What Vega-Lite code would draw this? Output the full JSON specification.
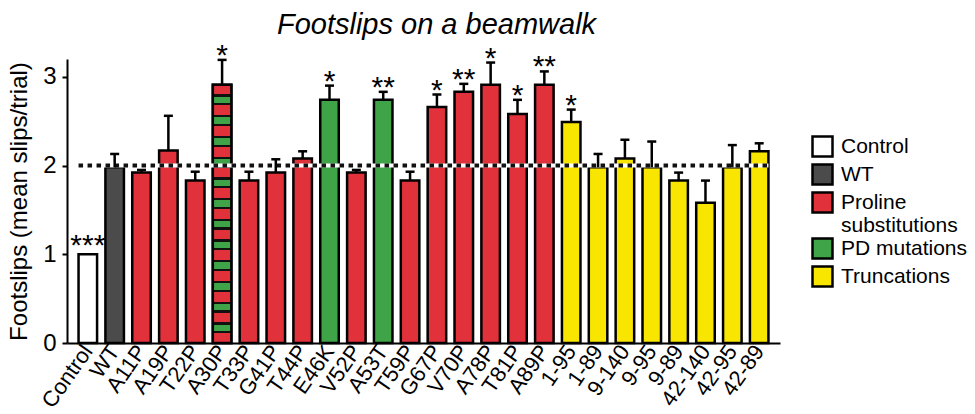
{
  "$schema": "https://vega.github.io/schema/vega-lite/v6.json",
  "width": 713,
  "height": 284,
  "autosize": {"type": "none"},
  "padding": {"left": 67, "top": 59, "right": 195, "bottom": 71},
  "background": "white",
  "config": {"font": "Liberation Sans", "view": {"stroke": null}},
  "title": {"text": "Footslips on a beamwalk", "fontSize": 29, "fontStyle": "italic", "fontWeight": "normal", "font": "Liberation Sans", "color": "black", "anchor": "middle", "dx": 13, "offset": 1},
  "data": {"values": [
    {"name": "Control", "group": "Control", "value": 1.0, "err": null, "sig": "***"},
    {"name": "WT", "group": "WT", "value": 1.98, "err": 2.13, "sig": ""},
    {"name": "A11P", "group": "Proline substitutions", "value": 1.92, "err": 1.95, "sig": ""},
    {"name": "A19P", "group": "Proline substitutions", "value": 2.17, "err": 2.56, "sig": ""},
    {"name": "T22P", "group": "Proline substitutions", "value": 1.83, "err": 1.93, "sig": ""},
    {"name": "A30P", "group": "Proline substitutions", "value": 2.91, "err": 3.19, "sig": "*"},
    {"name": "T33P", "group": "Proline substitutions", "value": 1.83, "err": 1.93, "sig": ""},
    {"name": "G41P", "group": "Proline substitutions", "value": 1.92, "err": 2.07, "sig": ""},
    {"name": "T44P", "group": "Proline substitutions", "value": 2.08, "err": 2.16, "sig": ""},
    {"name": "E46K", "group": "PD mutations", "value": 2.74, "err": 2.9, "sig": "*"},
    {"name": "V52P", "group": "Proline substitutions", "value": 1.92, "err": 1.95, "sig": ""},
    {"name": "A53T", "group": "PD mutations", "value": 2.74, "err": 2.83, "sig": "**"},
    {"name": "T59P", "group": "Proline substitutions", "value": 1.83, "err": 1.93, "sig": ""},
    {"name": "G67P", "group": "Proline substitutions", "value": 2.66, "err": 2.8, "sig": "*"},
    {"name": "V70P", "group": "Proline substitutions", "value": 2.83, "err": 2.92, "sig": "**"},
    {"name": "A78P", "group": "Proline substitutions", "value": 2.91, "err": 3.16, "sig": "*"},
    {"name": "T81P", "group": "Proline substitutions", "value": 2.58, "err": 2.74, "sig": "*"},
    {"name": "A89P", "group": "Proline substitutions", "value": 2.91, "err": 3.06, "sig": "**"},
    {"name": "1-95", "group": "Truncations", "value": 2.49, "err": 2.63, "sig": "*"},
    {"name": "1-89", "group": "Truncations", "value": 1.98, "err": 2.13, "sig": ""},
    {"name": "9-140", "group": "Truncations", "value": 2.08, "err": 2.29, "sig": ""},
    {"name": "9-95", "group": "Truncations", "value": 1.98, "err": 2.27, "sig": ""},
    {"name": "9-89", "group": "Truncations", "value": 1.83, "err": 1.92, "sig": ""},
    {"name": "42-140", "group": "Truncations", "value": 1.58, "err": 1.83, "sig": ""},
    {"name": "42-95", "group": "Truncations", "value": 1.98, "err": 2.23, "sig": ""},
    {"name": "42-89", "group": "Truncations", "value": 2.16, "err": 2.25, "sig": ""}
  ]},
  "layer": [
    {
      "mark": {"type": "bar", "stroke": "black", "strokeWidth": 2.5},
      "encoding": {
        "x": {"field": "name", "type": "nominal", "sort": null,
          "scale": {"paddingInner": 0.31, "paddingOuter": 0.43},
          "axis": {"title": null, "labelAngle": -55, "labelAlign": "right", "labelBaseline": "middle", "labelFontSize": 22, "labelColor": "black", "labelPadding": 4, "ticks": false, "domainColor": "black", "domainWidth": 2}},
        "y": {"field": "value", "type": "quantitative",
          "scale": {"domain": [0, 3.2], "nice": false},
          "axis": {"title": "Footslips (mean slips/trial)", "titleFontSize": 24, "titleFontWeight": "normal", "titleColor": "black", "titlePadding": 11,
            "values": [0, 0.5, 1, 1.5, 2, 2.5, 3], "format": "d", "labelExpr": "datum.value % 1 === 0 ? datum.label : ''",
            "labelFontSize": 24, "labelColor": "black", "labelPadding": 6, "tickColor": "black", "tickWidth": 2, "tickSize": 5,
            "domainColor": "black", "domainWidth": 2, "grid": false}},
        "fill": {"field": "group", "type": "nominal",
          "scale": {"domain": ["Control", "WT", "Proline substitutions", "PD mutations", "Truncations"],
                    "range": ["#ffffff", "#4b4b4b", "#e1323b", "#3fa447", "#f9e600"]},
          "legend": {"title": null, "orient": "none", "legendX": 744, "legendY": 76, "padding": 0,
            "symbolType": "square", "symbolSize": 400, "symbolStrokeColor": "black", "symbolStrokeWidth": 2.5, "symbolOpacity": 1,
            "labelFontSize": 21, "labelColor": "black", "labelOffset": 7, "rowPadding": -3, "labelLimit": 300,
            "labelExpr": "datum.value === 'Proline substitutions' ? ['Proline', 'substitutions'] : datum.label"}}
      }
    },
    {
      "transform": [{"filter": "datum.name === 'A30P'"}],
      "mark": {"type": "bar", "stroke": "black", "strokeWidth": 2.5,
        "fill": {"gradient": "linear", "x1": 0, "y1": 0, "x2": 0, "y2": 1, "stops": [
          {"offset": 0, "color": "#e1323b"},
          {"offset": 0.0376, "color": "#e1323b"}, {"offset": 0.0376, "color": "#111111"}, {"offset": 0.0466, "color": "#111111"}, {"offset": 0.0466, "color": "#3fa447"}, {"offset": 0.0712, "color": "#3fa447"}, {"offset": 0.0712, "color": "#111111"}, {"offset": 0.0802, "color": "#111111"}, {"offset": 0.0802, "color": "#e1323b"},
          {"offset": 0.1178, "color": "#e1323b"}, {"offset": 0.1178, "color": "#111111"}, {"offset": 0.1268, "color": "#111111"}, {"offset": 0.1268, "color": "#3fa447"}, {"offset": 0.1514, "color": "#3fa447"}, {"offset": 0.1514, "color": "#111111"}, {"offset": 0.1604, "color": "#111111"}, {"offset": 0.1604, "color": "#e1323b"},
          {"offset": 0.198, "color": "#e1323b"}, {"offset": 0.198, "color": "#111111"}, {"offset": 0.207, "color": "#111111"}, {"offset": 0.207, "color": "#3fa447"}, {"offset": 0.2316, "color": "#3fa447"}, {"offset": 0.2316, "color": "#111111"}, {"offset": 0.2406, "color": "#111111"}, {"offset": 0.2406, "color": "#e1323b"},
          {"offset": 0.2782, "color": "#e1323b"}, {"offset": 0.2782, "color": "#111111"}, {"offset": 0.2872, "color": "#111111"}, {"offset": 0.2872, "color": "#3fa447"}, {"offset": 0.3118, "color": "#3fa447"}, {"offset": 0.3118, "color": "#111111"}, {"offset": 0.3208, "color": "#111111"}, {"offset": 0.3208, "color": "#e1323b"},
          {"offset": 0.3584, "color": "#e1323b"}, {"offset": 0.3584, "color": "#111111"}, {"offset": 0.3674, "color": "#111111"}, {"offset": 0.3674, "color": "#3fa447"}, {"offset": 0.392, "color": "#3fa447"}, {"offset": 0.392, "color": "#111111"}, {"offset": 0.401, "color": "#111111"}, {"offset": 0.401, "color": "#e1323b"},
          {"offset": 0.4386, "color": "#e1323b"}, {"offset": 0.4386, "color": "#111111"}, {"offset": 0.4476, "color": "#111111"}, {"offset": 0.4476, "color": "#3fa447"}, {"offset": 0.4722, "color": "#3fa447"}, {"offset": 0.4722, "color": "#111111"}, {"offset": 0.4812, "color": "#111111"}, {"offset": 0.4812, "color": "#e1323b"},
          {"offset": 0.5188, "color": "#e1323b"}, {"offset": 0.5188, "color": "#111111"}, {"offset": 0.5278, "color": "#111111"}, {"offset": 0.5278, "color": "#3fa447"}, {"offset": 0.5524, "color": "#3fa447"}, {"offset": 0.5524, "color": "#111111"}, {"offset": 0.5614, "color": "#111111"}, {"offset": 0.5614, "color": "#e1323b"},
          {"offset": 0.599, "color": "#e1323b"}, {"offset": 0.599, "color": "#111111"}, {"offset": 0.608, "color": "#111111"}, {"offset": 0.608, "color": "#3fa447"}, {"offset": 0.6326, "color": "#3fa447"}, {"offset": 0.6326, "color": "#111111"}, {"offset": 0.6416, "color": "#111111"}, {"offset": 0.6416, "color": "#e1323b"},
          {"offset": 0.6792, "color": "#e1323b"}, {"offset": 0.6792, "color": "#111111"}, {"offset": 0.6882, "color": "#111111"}, {"offset": 0.6882, "color": "#3fa447"}, {"offset": 0.7128, "color": "#3fa447"}, {"offset": 0.7128, "color": "#111111"}, {"offset": 0.7218, "color": "#111111"}, {"offset": 0.7218, "color": "#e1323b"},
          {"offset": 0.7594, "color": "#e1323b"}, {"offset": 0.7594, "color": "#111111"}, {"offset": 0.7684, "color": "#111111"}, {"offset": 0.7684, "color": "#3fa447"}, {"offset": 0.793, "color": "#3fa447"}, {"offset": 0.793, "color": "#111111"}, {"offset": 0.802, "color": "#111111"}, {"offset": 0.802, "color": "#e1323b"},
          {"offset": 0.8396, "color": "#e1323b"}, {"offset": 0.8396, "color": "#111111"}, {"offset": 0.8486, "color": "#111111"}, {"offset": 0.8486, "color": "#3fa447"}, {"offset": 0.8732, "color": "#3fa447"}, {"offset": 0.8732, "color": "#111111"}, {"offset": 0.8822, "color": "#111111"}, {"offset": 0.8822, "color": "#e1323b"},
          {"offset": 0.9198, "color": "#e1323b"}, {"offset": 0.9198, "color": "#111111"}, {"offset": 0.9288, "color": "#111111"}, {"offset": 0.9288, "color": "#3fa447"}, {"offset": 0.9534, "color": "#3fa447"}, {"offset": 0.9534, "color": "#111111"}, {"offset": 0.9624, "color": "#111111"}, {"offset": 0.9624, "color": "#e1323b"},
          {"offset": 1, "color": "#e1323b"}
        ]}},
      "encoding": {
        "x": {"field": "name", "type": "nominal", "sort": null},
        "y": {"field": "value", "type": "quantitative"}
      }
    },
    {
      "data": {"values": [{"ref": 2}]},
      "mark": {"type": "rule", "color": "white", "strokeWidth": 4},
      "encoding": {
        "y": {"field": "ref", "type": "quantitative"},
        "x": {"datum": "Control", "type": "nominal", "bandPosition": 0},
        "x2": {"datum": "42-89", "bandPosition": 1}
      }
    },
    {
      "data": {"values": [{"ref": 2}]},
      "mark": {"type": "rule", "color": "#111111", "strokeWidth": 4, "strokeDash": [4.5, 4.5]},
      "encoding": {
        "y": {"field": "ref", "type": "quantitative"},
        "x": {"datum": "Control", "type": "nominal", "bandPosition": 0},
        "x2": {"datum": "42-89", "bandPosition": 1}
      }
    },
    {
      "transform": [{"filter": "datum.err != null"}],
      "mark": {"type": "rule", "color": "black", "strokeWidth": 2.5},
      "encoding": {
        "x": {"field": "name", "type": "nominal", "sort": null},
        "y": {"field": "value", "type": "quantitative"},
        "y2": {"field": "err"}
      }
    },
    {
      "transform": [{"filter": "datum.err != null"}],
      "mark": {"type": "tick", "color": "black", "size": 9, "thickness": 2.5, "opacity": 1},
      "encoding": {
        "x": {"field": "name", "type": "nominal", "sort": null},
        "y": {"field": "err", "type": "quantitative"}
      }
    },
    {
      "transform": [{"filter": "datum.err != null && datum.sig !== ''"}],
      "mark": {"type": "text", "fontSize": 30, "baseline": "alphabetic", "dy": 5, "color": "black"},
      "encoding": {
        "x": {"field": "name", "type": "nominal", "sort": null},
        "y": {"field": "err", "type": "quantitative"},
        "text": {"field": "sig"}
      }
    },
    {
      "transform": [{"filter": "datum.err == null && datum.sig !== ''"}],
      "mark": {"type": "text", "fontSize": 30, "baseline": "alphabetic", "dy": 1, "color": "black"},
      "encoding": {
        "x": {"field": "name", "type": "nominal", "sort": null},
        "y": {"field": "value", "type": "quantitative"},
        "text": {"field": "sig"}
      }
    }
  ]
}
